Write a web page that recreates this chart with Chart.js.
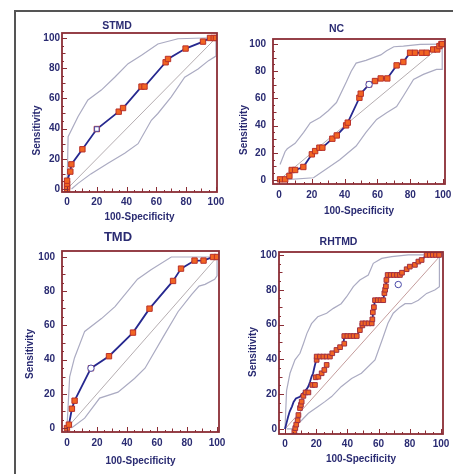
<!DOCTYPE html>
<html>
<head>
<meta charset="utf-8">
<script src="https://cdn.jsdelivr.net/npm/chart.js@4.4.1/dist/chart.umd.min.js"></script>
<style>
  html, body { margin: 0; padding: 0; background: #fff; overflow: hidden; }
  #pagina { position: relative; width: 453px; height: 474px; overflow: hidden; }
  #moldura { position: absolute; left: 14px; top: 10px; width: 460px; height: 470px;
             border-left: 2px solid #555; border-top: 2px solid #555; }
  canvas { position: absolute; }
</style>
</head>
<body>
<div id="pagina">
  <div id="moldura"></div>
  <canvas id="stmd"></canvas>
  <canvas id="nc"></canvas>
  <canvas id="tmd"></canvas>
  <canvas id="rhtmd"></canvas>
</div>
<script>
const ticksEixo = [0, 20, 40, 60, 80, 100];
const diagonalX = [0, 100];
const diagonalY = [0, 100];

// STMD
const stmdCurvaX = [0, 0, 0, 0, 2.2, 2.9, 10.3, 20, 34.7, 37.6, 50, 52, 66.2, 67.8, 79.6, 91.3, 96, 98.5, 100];
const stmdCurvaY = [0, 1.5, 3.5, 5.5, 11.5, 16.3, 26.3, 39.7, 51.2, 53.6, 67.8, 67.8, 83.9, 86.1, 93, 97.6, 100, 100, 100];
const stmdCorteX = [20];
const stmdCorteY = [39.7];
const stmdSupX = [0, 0.7, 7.4, 14, 23, 32, 41, 50, 61, 74.5, 92, 100];
const stmdSupY = [0, 34.6, 48, 59, 65.5, 74, 83, 88.5, 96, 99.5, 100, 100];
const stmdInfX = [3, 7.4, 16, 27.5, 38.7, 47.7, 56.6, 61, 70, 79, 88, 95, 100, 100];
const stmdInfY = [0, 3.7, 10, 17, 23.6, 30, 45.5, 50, 61, 74, 79.5, 85, 88, 100];

// NC
const ncCurvaX = [0.6, 3.7, 6.3, 7.7, 9.8, 14.8, 20, 22, 24.6, 26.4, 32.5, 35.2, 40.9, 41.9, 49, 49.8, 54.9, 58.5, 62, 66, 71.7, 75.8, 79.9, 82.9, 87, 90, 94, 96.5, 97.8, 99, 99.5];
const ncCurvaY = [0.5, 0.5, 3, 7.4, 7.4, 9.6, 18.9, 21.3, 23.8, 23.8, 30.4, 32.8, 40.2, 42.2, 60.5, 63.5, 70.3, 72.8, 74.7, 74.7, 84.3, 86.8, 93.6, 93.6, 93.6, 93.6, 96, 96, 98.5, 100, 100];
const ncCorteX = [54.9];
const ncCorteY = [70.3];
const ncSupX = [0.6, 3.7, 5, 9.8, 15, 19, 25, 30, 35, 41, 44, 47, 53, 57.5, 62, 65.6, 70, 75.8, 86, 100];
const ncSupY = [11.5, 21, 23, 27, 35, 42, 46, 51, 57, 72, 80, 86, 88, 90, 92, 95, 98, 98.5, 99.8, 100];
const ncInfX = [0.6, 21, 27, 37, 47, 53, 59.5, 65.6, 71.7, 75.8, 82, 88, 96, 99.5, 99.5];
const ncInfY = [0, 1.7, 6.6, 15, 25, 35, 44.6, 49.5, 54, 61.8, 74, 77.7, 81.4, 81.4, 100];

// TMD
const tmdCurvaX = [0, 1.3, 3.3, 5.1, 16, 28, 44, 55, 70.7, 76, 85, 91, 97.3, 100];
const tmdCurvaY = [0, 2, 11.3, 16, 35, 42, 55.8, 69.8, 86, 93.2, 97.9, 97.9, 100, 100];
const tmdCorteX = [16];
const tmdCorteY = [35];
const tmdSupX = [0, 1.8, 5, 11.8, 23, 32, 47, 56, 69.5, 100];
const tmdSupY = [0, 30, 41, 56.5, 64, 71, 87, 92.6, 100, 100];
const tmdInfX = [3, 11.8, 21.8, 34, 45, 52, 65, 74, 83, 88, 92, 98.4, 100, 100];
const tmdInfY = [0, 5.8, 17.5, 21, 29, 35, 54.6, 68, 78, 83, 84, 87, 89, 100];

// RHTMD
const rhtmdCurvaX = [0, 1, 2, 3, 4.5, 5.5, 7, 9.5, 12, 14, 15, 16, 17, 18, 19, 20, 20.3, 28.8, 30, 33, 35.5, 37.5, 38, 46, 48, 49.6, 49.6, 55.6, 56, 56.3, 57, 57.7, 63, 63.7, 64.7, 65, 65.8, 73.7, 75, 78, 80, 83.3, 85.5, 87.6, 90.8, 100];
const rhtmdCurvaY = [0, 3.5, 7, 10, 13, 15.5, 17.5, 18.5, 21, 23, 24.5, 27, 30, 32, 36, 39.5, 41.6, 41.6, 43.5, 45.4, 47, 49, 53.4, 53.4, 56.8, 59.5, 60.7, 60.7, 63, 67, 70, 74, 74, 78, 82, 85.6, 88.5, 88.5, 89.8, 91.8, 93.3, 94.3, 96.2, 97.1, 100, 100];
const rhtmdMarcasX = [20.3, 20.3, 22.4, 24.6, 26.7, 28.8, 30.3, 33, 35.3, 38, 38, 40, 42, 44, 46, 48, 49.6, 49.6, 51.6, 53.6, 55.6, 56, 56.3, 57, 57.7, 59.5, 61.3, 63, 63.7, 64.2, 64.7, 65, 65.8, 67.8, 69.8, 71.8, 73.7, 75, 78, 80, 83.3, 85.5, 87.6, 90.8, 92.8, 94.8, 96.8, 98.8,
  6, 6.6, 7.2, 8.1, 8.6, 9.6, 10.2, 10.7, 11.8, 13.2, 15, 17.5, 19.2, 19.7, 21.4, 23.5, 25.2, 26.7];
const rhtmdMarcasY = [39.7, 41.6, 41.6, 41.6, 41.6, 41.6, 43.5, 45.4, 47, 49, 53.4, 53.4, 53.4, 53.4, 53.4, 56.8, 59.5, 60.7, 60.7, 60.7, 60.7, 63, 67, 70, 74, 74, 74, 74, 78, 80, 82, 85.6, 88.5, 88.5, 88.5, 88.5, 88.5, 89.8, 91.8, 93.3, 94.3, 96.2, 97.1, 100, 100, 100, 100, 100,
  -1.5, 0.5, 2.5, 5, 8, 12, 13.8, 15.7, 19, 21, 21, 25.3, 25.3, 29.7, 30, 32, 33.9, 36.8];
const rhtmdCorteX = [72.6];
const rhtmdCorteY = [83];
const rhtmdSupX = [0, 1, 3.2, 6.4, 9.6, 11.8, 14, 17, 21, 26.7, 31, 36, 39.5, 43.8, 48, 53.4, 56.6, 62, 68.4, 79, 100];
const rhtmdSupY = [0, 22, 32, 39.7, 43.5, 49, 54.8, 60.5, 64.5, 66.5, 69.3, 72, 76, 81.8, 85.6, 88.5, 95.2, 98, 99, 100, 100];
const rhtmdInfX = [1, 4.3, 10.7, 15, 21, 25.6, 29.9, 36, 42.7, 49, 57.7, 63, 66, 69.4, 73.7, 77, 81, 85.5, 90.8, 96, 99, 99];
const rhtmdInfY = [0, 0, 5, 9, 12.8, 15.7, 18.6, 24.3, 29, 32, 39.7, 53, 60.7, 66.5, 70, 72, 72, 74, 77.9, 79.9, 81.8, 100];

const corTexto = '#2a2b72';
const corMoldura = '#8b2d35';
const corCurva = '#26288f';
const corBanda = '#ababc2';
const fonte = '"Liberation Sans", Arial, sans-serif';

Chart.defaults.font.family = fonte;

function pontos(xs, ys) {
  return xs.map((x, i) => ({ x: x, y: ys[i] }));
}

// frame, inward ticks and the rotated "Sensitivity" label
const molduraPlugin = {
  id: 'moldura',
  afterDatasetsDraw(chart, args, opts) {
    const ctx = chart.ctx;
    const a = chart.chartArea;
    const x = chart.scales.x;
    const y = chart.scales.y;
    ctx.save();
    ctx.strokeStyle = corMoldura;
    ctx.lineWidth = 1.8;
    ctx.strokeRect(a.left, a.top, a.right - a.left, a.bottom - a.top);
    ctx.lineWidth = 1;
    ctx.beginPath();
    for (let v = 0; v <= 100; v += 5) {
      const len = v % 20 === 0 ? 5 : (v % 10 === 0 ? 3.5 : 2);
      const px = Math.round(x.getPixelForValue(v)) + 0.5;
      ctx.moveTo(px, a.bottom);
      ctx.lineTo(px, a.bottom - len);
      const py = Math.round(y.getPixelForValue(v)) + 0.5;
      ctx.moveTo(a.left, py);
      ctx.lineTo(a.left + len, py);
    }
    ctx.stroke();
    ctx.fillStyle = corTexto;
    ctx.font = 'bold 10px ' + fonte;
    ctx.translate(a.left - opts.tituloYDist, (a.top + a.bottom) / 2 + opts.tituloYDesvio);
    ctx.rotate(-Math.PI / 2);
    ctx.textAlign = 'center';
    ctx.textBaseline = 'middle';
    ctx.fillText('Sensitivity', 0, 0);
    ctx.restore();
  }
};

function criarPainel(id, p, datasets) {
  const canvas = document.getElementById(id);
  const lh = p.tamTitulo * 1.2;
  const top = Math.floor(p.tituloY - lh / 2 - 3);
  const left = p.area.l - 45;
  const width = Math.round(2 * (p.tituloX - left));
  const bottom = Math.round(p.eixoXTituloY + 6);
  const height = bottom - top;
  canvas.width = width;
  canvas.height = height;
  canvas.style.left = left + 'px';
  canvas.style.top = top + 'px';
  canvas.style.width = width + 'px';
  canvas.style.height = height + 'px';

  new Chart(canvas, {
    type: 'line',
    data: { datasets: datasets },
    plugins: [molduraPlugin],
    options: {
      responsive: false,
      animation: false,
      devicePixelRatio: 1,
      layout: { padding: { top: 0, left: 0, bottom: 0, right: left + width - p.area.r } },
      plugins: {
        legend: { display: false },
        tooltip: { enabled: false },
        title: {
          display: true,
          text: p.titulo,
          color: corTexto,
          font: { size: p.tamTitulo, weight: 'bold', lineHeight: 1.2 },
          padding: { top: p.tituloY - lh / 2 - top, bottom: p.area.t - p.tituloY - lh / 2 }
        },
        moldura: { tituloYDist: p.tituloYDist, tituloYDesvio: p.tituloYDesvio }
      },
      scales: {
        x: {
          type: 'linear',
          min: p.xMin,
          max: p.xMax,
          afterBuildTicks: s => { s.ticks = ticksEixo.map(v => ({ value: v })); },
          afterFit: s => { s.height = bottom - p.area.b; },
          grid: { display: false, drawTicks: false, tickLength: 0 },
          border: { display: false },
          ticks: { color: corTexto, font: { size: 10, weight: 'bold' }, padding: p.padTickX, maxRotation: 0 },
          title: { display: true, text: '100-Specificity', color: corTexto, font: { size: 10, weight: 'bold' }, padding: 0 }
        },
        y: {
          type: 'linear',
          min: p.yMin,
          max: p.yMax,
          afterBuildTicks: s => { s.ticks = ticksEixo.map(v => ({ value: v })); },
          afterFit: s => { s.width = p.area.l - left; },
          grid: { display: false, drawTicks: false, tickLength: 0 },
          border: { display: false },
          ticks: { color: corTexto, font: { size: 10, weight: 'bold' }, padding: p.padTickY }
        }
      }
    }
  });
}

function conjuntos(curvaX, curvaY, corteX, corteY, supX, supY, infX, infY, opcoes) {
  const lista = [];
  lista.push({
    data: pontos(corteX, corteY),
    showLine: false,
    pointStyle: opcoes.estiloCorte,
    pointRadius: 3.2,
    pointBackgroundColor: '#ffffff',
    pointBorderColor: '#4a4aa8',
    pointBorderWidth: 1
  });
  if (opcoes.marcasX) {
    lista.push({
      data: pontos(opcoes.marcasX, opcoes.marcasY),
      showLine: false,
      pointStyle: 'rect',
      pointRadius: 3.3,
      pointBackgroundColor: '#f26522',
      pointBorderColor: '#a03040',
      pointBorderWidth: 1
    });
  }
  lista.push({
    data: pontos(curvaX, curvaY),
    borderColor: corCurva,
    borderWidth: 1.8,
    tension: 0,
    pointStyle: 'rect',
    pointRadius: opcoes.marcasX ? 0 : 3.8,
    pointBackgroundColor: '#f26522',
    pointBorderColor: '#b8302a',
    pointBorderWidth: 1
  });
  lista.push({ data: pontos(supX, supY), borderColor: corBanda, borderWidth: 1.2, pointRadius: 0, tension: 0 });
  lista.push({ data: pontos(infX, infY), borderColor: corBanda, borderWidth: 1.2, pointRadius: 0, tension: 0 });
  lista.push({ data: pontos(diagonalX, diagonalY), borderColor: opcoes.corDiagonal, borderWidth: 1, pointRadius: 0 });
  return lista;
}

criarPainel('stmd', {
  area: { l: 62, r: 217, t: 33, b: 192 },
  titulo: 'STMD', tituloX: 141, tituloY: 26, tamTitulo: 10.5, eixoXTituloY: 216.7,
  xMin: -3.4, xMax: 100.7, yMin: -2, yMax: 103.3, padTickY: 2, padTickX: 4,
  tituloYDist: 24.3, tituloYDesvio: 18
}, conjuntos(stmdCurvaX, stmdCurvaY, stmdCorteX, stmdCorteY, stmdSupX, stmdSupY, stmdInfX, stmdInfY,
  { estiloCorte: 'rect', corDiagonal: '#b5adb0' }));

criarPainel('nc', {
  area: { l: 273, r: 445, t: 39, b: 184 },
  titulo: 'NC', tituloX: 360, tituloY: 29, tamTitulo: 10.5, eixoXTituloY: 211,
  xMin: -3.7, xMax: 101.2, yMin: -2.9, yMax: 103.7, padTickY: 7, padTickX: 5,
  tituloYDist: 29, tituloYDesvio: 18.5
}, conjuntos(ncCurvaX, ncCurvaY, ncCorteX, ncCorteY, ncSupX, ncSupY, ncInfX, ncInfY,
  { estiloCorte: 'circle', corDiagonal: '#b5adb0' }));

criarPainel('tmd', {
  area: { l: 62, r: 219, t: 251, b: 432 },
  titulo: 'TMD', tituloX: 131, tituloY: 237, tamTitulo: 13, eixoXTituloY: 461,
  xMin: -3.3, xMax: 101.3, yMin: -2.3, yMax: 103.5, padTickY: 7, padTickX: 5,
  tituloYDist: 31.3, tituloYDesvio: 12.5
}, conjuntos(tmdCurvaX, tmdCurvaY, tmdCorteX, tmdCorteY, tmdSupX, tmdSupY, tmdInfX, tmdInfY,
  { estiloCorte: 'circle', corDiagonal: '#b5adb0' }));

criarPainel('rhtmd', {
  area: { l: 279, r: 443, t: 252, b: 434 },
  titulo: 'RHTMD', tituloX: 365, tituloY: 242, tamTitulo: 10.5, eixoXTituloY: 459,
  xMin: -3.85, xMax: 101.3, yMin: -2.9, yMax: 101.7, padTickY: 2, padTickX: 4,
  tituloYDist: 26, tituloYDesvio: 9
}, conjuntos(rhtmdCurvaX, rhtmdCurvaY, rhtmdCorteX, rhtmdCorteY, rhtmdSupX, rhtmdSupY, rhtmdInfX, rhtmdInfY,
  { estiloCorte: 'circle', corDiagonal: '#c49c9c', marcasX: rhtmdMarcasX, marcasY: rhtmdMarcasY }));
</script>
</body>
</html>
